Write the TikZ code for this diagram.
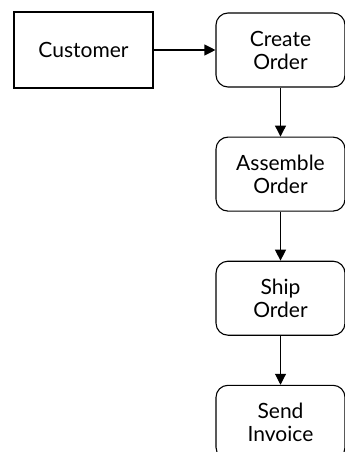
\documentclass[tikz,border=0pt]{standalone}
\usepackage{fontspec}
\setmainfont{Lato}
\usetikzlibrary{positioning,arrows.meta}

\tikzset{
  actor/.style={draw, line width=1.1pt, minimum width=139pt, minimum height=76pt},
  process/.style={draw, line width=1.1pt, rounded corners=12pt, align=center,
    minimum width=129pt, minimum height=74pt},
  flow/.style={line width=1.1pt, -{Triangle[width=11pt,length=11pt]}}
}

\begin{document}
\begin{tikzpicture}[font=\fontsize{21}{23}\selectfont]
  \useasboundingbox (0,0) rectangle (345pt,-452pt);

  \node[actor] (customer) at (83.5pt,-50pt) {Customer};
  \node[process] (create) at (280.5pt,-50pt) {Create\\Order};
  \node[process, below=49pt of create] (assemble) {Assemble\\Order};
  \node[process, below=49pt of assemble] (ship) {Ship\\Order};
  \node[process, below=49pt of ship] (invoice) {Send\\Invoice};

  \draw[flow] (customer) -- (create);
  \draw[flow] (create) -- (assemble);
  \draw[flow] (assemble) -- (ship);
  \draw[flow] (ship) -- (invoice);

\end{tikzpicture}
\end{document}
